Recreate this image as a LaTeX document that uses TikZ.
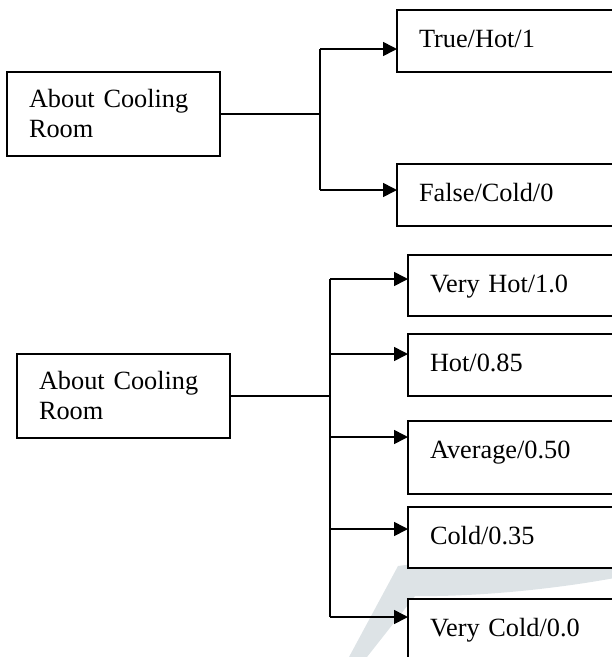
\documentclass[tikz,border=0pt]{standalone}
\usepackage{fontspec}
\setmainfont{Liberation Serif}
\usepackage{xcolor}
\usepackage{tikz}
\usetikzlibrary{positioning,arrows.meta}
\definecolor{ink}{HTML}{000000}
\definecolor{wmark}{HTML}{DDE3E6}
\tikzset{
  roombox/.style={draw=ink, line width=1.8pt, fill=white, align=left, anchor=north west, inner xsep=22pt, inner ysep=0pt, outer sep=0pt, text width=169pt, text height=35pt, text depth=49pt, font=\fontsize{26.3}{30.5}\selectfont},
  valbox/.style={draw=ink, line width=1.8pt, fill=white, align=left, anchor=north west, inner xsep=22pt, inner ysep=0pt, outer sep=0pt, text width=200pt, text height=37pt, font=\fontsize{26.3}{30.5}\selectfont},
  trunkline/.style={line width=1.6pt, draw=ink},
  forkarrow/.style={-{Triangle[length=14pt,width=14pt]}, line width=1.6pt, draw=ink}
}

\begin{document}
\begin{tikzpicture}[x=1pt, y=-1pt]
  \useasboundingbox (0,0) rectangle (612,657);
  \clip (0,0) rectangle (612,657);
  \fill[wmark] (349,657) -- (398,566) .. controls (470,556) and (560,554) .. (640,558) -- (640,573) .. controls (560,590) and (470,597) .. (415,596) -- (367,657) -- cycle;
  \node[roombox] (about1) at (7,72) {About Cooling\\Room};
  \node[valbox, text depth=25pt] (truebox) at (397,10) {True/Hot/1};
  \node[valbox, text depth=25pt, below=92pt of truebox.south west, anchor=north west] (falsebox) {False/Cold/0};
  \node[roombox] (about2) at (17,354) {About Cooling\\Room};
  \node[valbox, text depth=24pt] (veryhot) at (408,255) {Very Hot/1.0};
  \node[valbox, text depth=25pt, below=18pt of veryhot.south west, anchor=north west] (hot) {Hot/0.85};
  \node[valbox, text depth=36pt, below=25pt of hot.south west, anchor=north west] (average) {Average/0.50};
  \node[valbox, text depth=24pt, below=13pt of average.south west, anchor=north west] (cold) {Cold/0.35};
  \node[valbox, text depth=25pt, below=31pt of cold.south west, anchor=north west] (verycold) {Very Cold/0.0};
  \coordinate (tap-true) at (320,49);
  \coordinate (tap-false) at (320,190);
  \coordinate (tap-veryhot) at (330,279);
  \coordinate (tap-hot) at (330,354);
  \coordinate (tap-average) at (330,437);
  \coordinate (tap-cold) at (330,529);
  \coordinate (tap-verycold) at (330,617);
  \draw[trunkline] (about1.east) -- (about1.east -| tap-true);
  \draw[trunkline] (tap-true) -- (tap-false);
  \draw[forkarrow] (tap-true) -- (tap-true -| truebox.west);
  \draw[forkarrow] (tap-false) -- (tap-false -| falsebox.west);
  \draw[trunkline] (about2.east) -- (about2.east -| tap-hot);
  \draw[trunkline] (tap-veryhot) -- (tap-verycold);
  \draw[forkarrow] (tap-veryhot) -- (tap-veryhot -| veryhot.west);
  \draw[forkarrow] (tap-hot) -- (tap-hot -| hot.west);
  \draw[forkarrow] (tap-average) -- (tap-average -| average.west);
  \draw[forkarrow] (tap-cold) -- (tap-cold -| cold.west);
  \draw[forkarrow] (tap-verycold) -- (tap-verycold -| verycold.west);
\end{tikzpicture}
\end{document}
